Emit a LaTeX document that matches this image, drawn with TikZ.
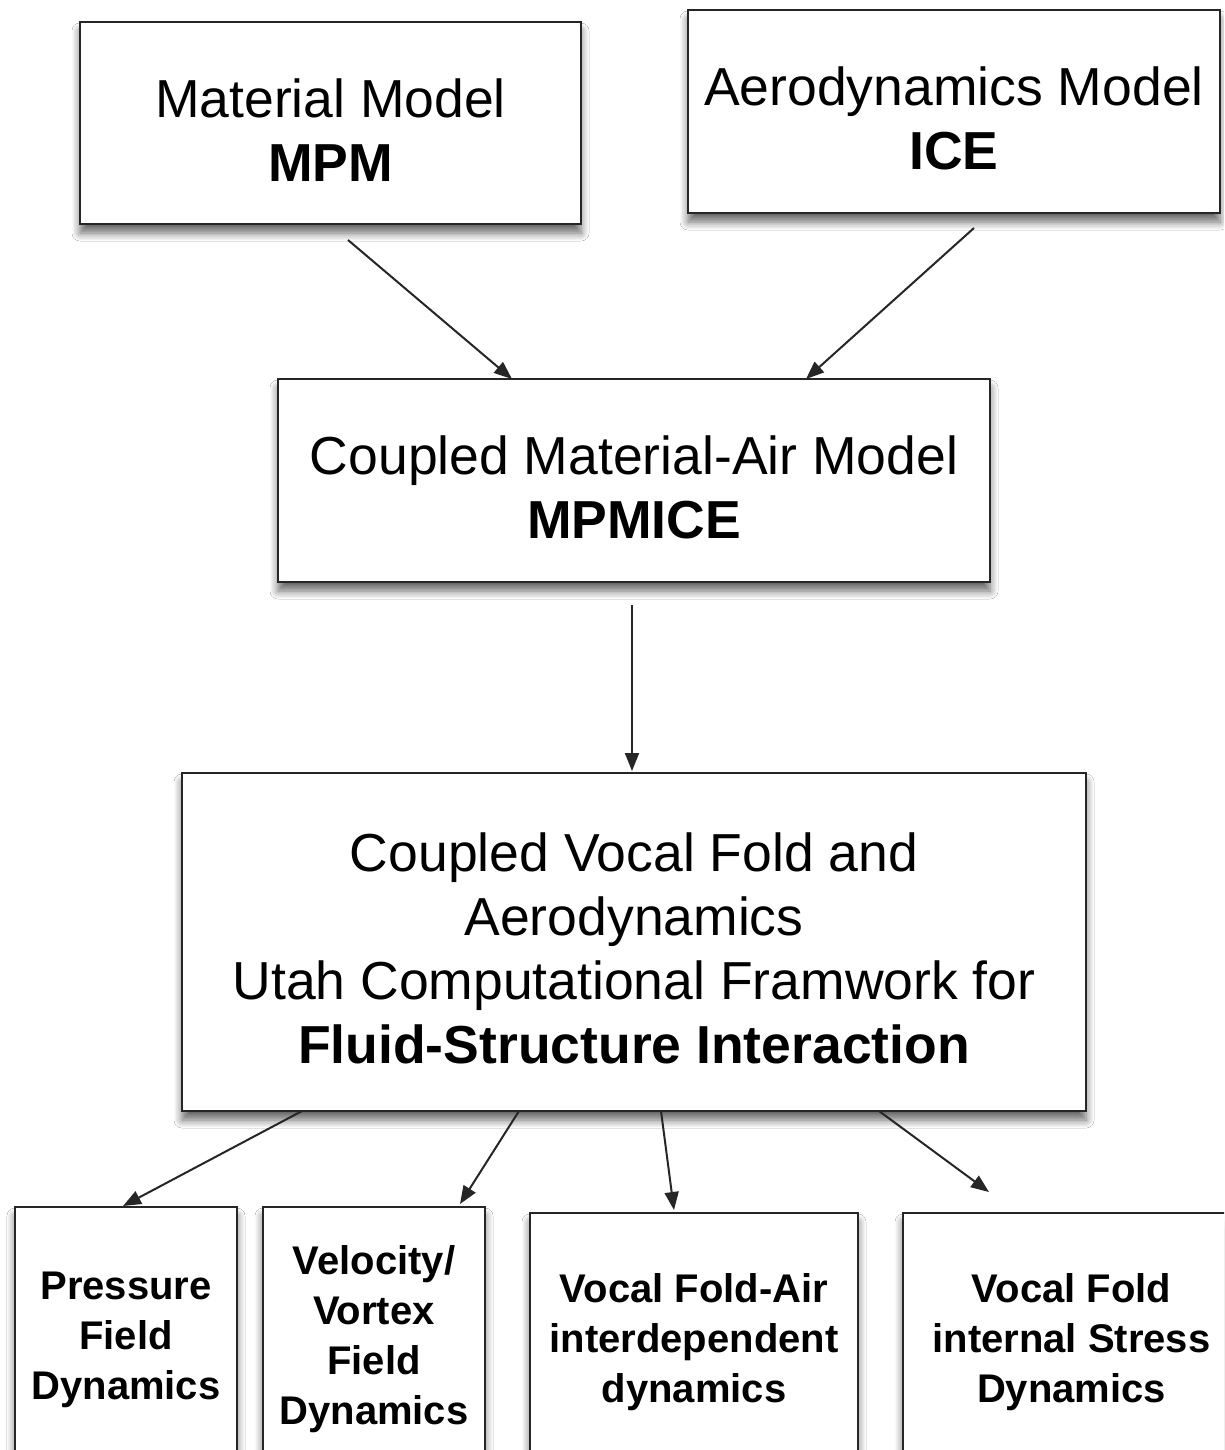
\documentclass[tikz,border=0pt]{standalone}
\usepackage{fontspec}
\setmainfont{Liberation Sans}
\usetikzlibrary{arrows.meta,shadows.blur}
\newcommand{\dn}[1]{\rule{0pt}{#1}}
\tikzset{
  box/.style={draw=black!85, line width=2.5pt, fill=white, align=center,
    inner sep=0pt, outer sep=0pt,
    blur shadow={shadow xshift=0pt, shadow yshift=-9pt, shadow blur radius=8pt, shadow opacity=60, shadow blur steps=8}},
  bigtxt/.style={font=\fontsize{53.5}{64}\selectfont},
  smalltxt/.style={font=\fontsize{40}{50}\selectfont\bfseries},
  arr/.style={line width=2pt, draw=black!85, -{Triangle[length=18pt,width=14pt]}}
}
\begin{document}
\begin{tikzpicture}[x=1pt,y=-1pt]
\clip (0,0) rectangle (1224,1450);
\fill[white] (0,0) rectangle (1224,1450);
\node[box,bigtxt,minimum width=501pt,minimum height=202pt] (mpm) at (330.5,123) {\dn{53.5pt}Material Model\\\textbf{MPM}};
\node[box,bigtxt,minimum width=532pt,minimum height=203pt] (ice) at (954,111.5) {\dn{53.5pt}Aerodynamics Model\\\textbf{ICE}};
\node[box,bigtxt,minimum width=712pt,minimum height=203pt] (mpmice) at (634,480.5) {\dn{53.5pt}Coupled Material-Air Model\\\textbf{MPMICE}};
\node[box,bigtxt,minimum width=904pt,minimum height=338pt] (big) at (634,942) {\dn{52pt}Coupled Vocal Fold and\\Aerodynamics\\Utah Computational Framwork for\\\textbf{Fluid-Structure Interaction}};
\node[box,smalltxt,minimum width=222pt,minimum height=253pt] (pfd) at (126,1333.5) {\dn{41pt}Pressure\\Field\\Dynamics};
\node[box,smalltxt,minimum width=222pt,minimum height=253pt] (vvf) at (374,1333.5) {\dn{41pt}Velocity/\\Vortex\\Field\\Dynamics};
\node[box,smalltxt,minimum width=328pt,minimum height=247pt] (vfa) at (694,1336.5) {\dn{41pt}Vocal Fold-Air\\interdependent\\dynamics};
\node[box,smalltxt,minimum width=337pt,minimum height=247pt] (vfi) at (1071.5,1336.5) {\dn{41pt}Vocal Fold\\internal Stress\\Dynamics};

\draw[arr] ([xshift=268pt,yshift=-16pt]mpm.south west) -- ([xshift=234pt]mpmice.north west);
\draw[arr] ([xshift=286pt,yshift=-15pt]ice.south west) -- ([xshift=528pt]mpmice.north west);
\draw[arr] ([xshift=354pt,yshift=-23pt]mpmice.south west) -- ([xshift=450pt,yshift=2pt]big.north west);
\draw[arr] ([xshift=120pt]big.south west) -- ([xshift=108pt,yshift=1pt]pfd.north west);
\draw[arr] ([xshift=337pt]big.south west) -- ([xshift=197pt,yshift=3pt]vvf.north west);
\draw[arr] ([xshift=479pt]big.south west) -- ([xshift=144pt,yshift=3pt]vfa.north west);
\draw[arr] ([xshift=697pt]big.south west) -- ([xshift=86pt,yshift=21pt]vfi.north west);
\end{tikzpicture}
\end{document}
